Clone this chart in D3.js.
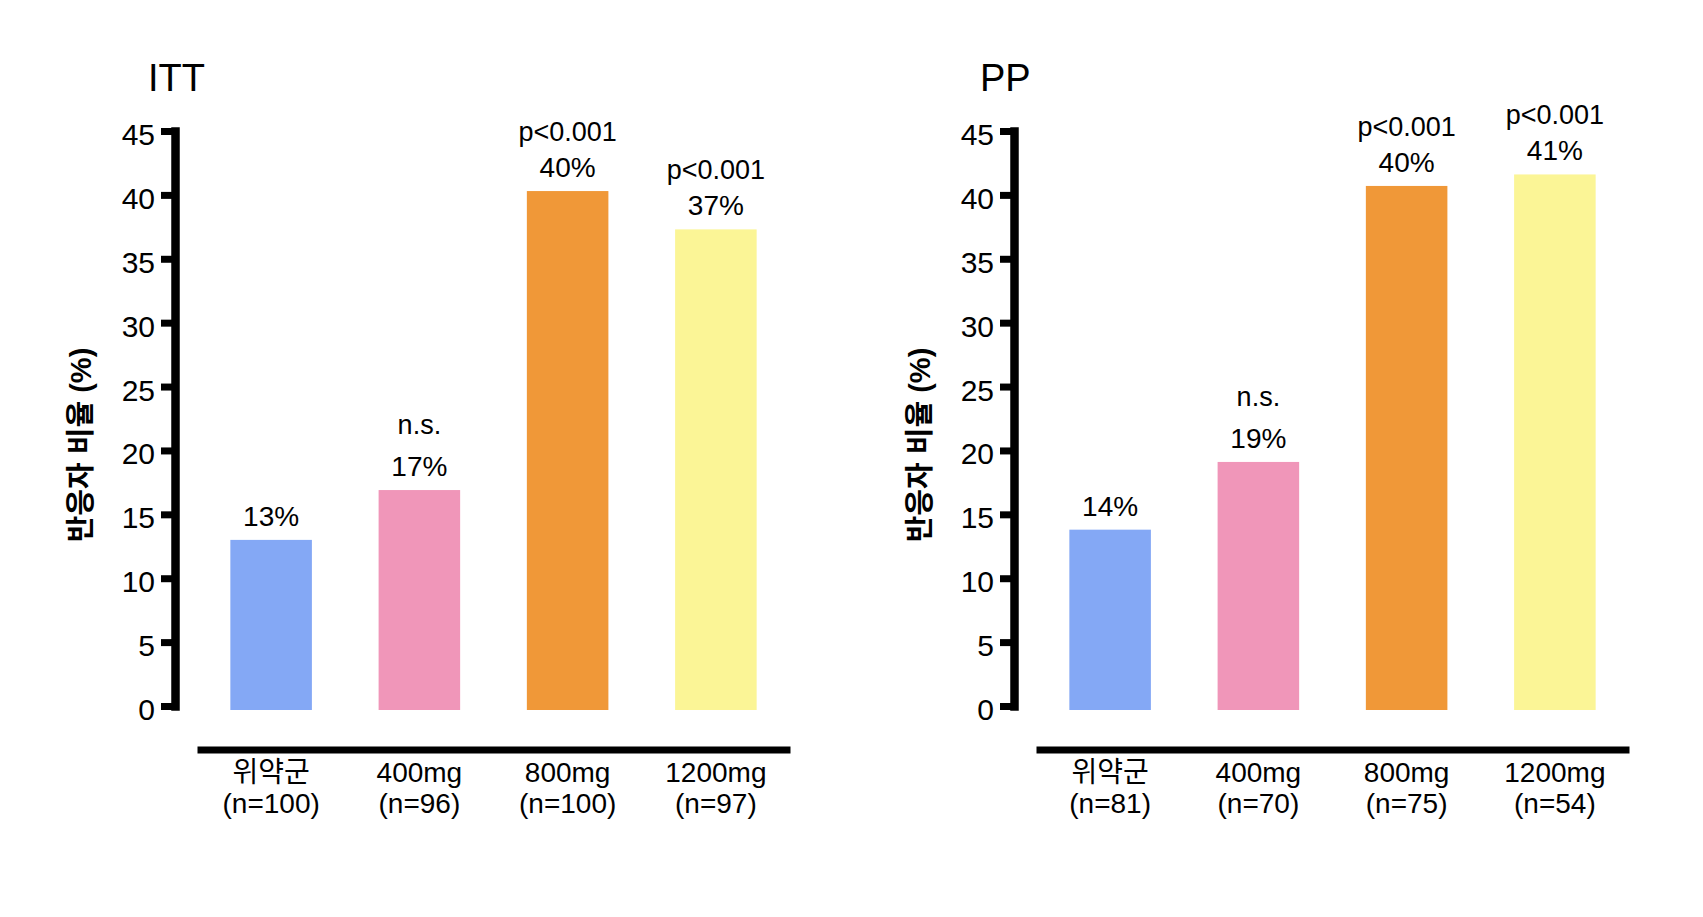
<!DOCTYPE html>
<html>
<head>
<meta charset="utf-8">
<script src="https://cdn.jsdelivr.net/npm/d3@7"></script>
<style>
  body { margin: 0; background: #fff; }
  text { font-family: "Liberation Sans", "Noto Sans CJK KR", sans-serif; fill: #000; }
</style>
</head>
<body>
<div id="chart"></div>
<script>
// data
const categories = ['위약군', '400mg', '800mg', '1200mg']
const ittN = ['(n=100)', '(n=96)', '(n=100)', '(n=97)']
const ppN = ['(n=81)', '(n=70)', '(n=75)', '(n=54)']
const ittValues = [13.0, 16.9, 40.3, 37.3]
const ppValues = [13.8, 19.1, 40.7, 41.6]
const ittLabels = ['13%', '17%', '40%', '37%']
const ppLabels = ['14%', '19%', '40%', '41%']
const ittSig = ['', 'n.s.', 'p<0.001', 'p<0.001']
const ppSig = ['', 'n.s.', 'p<0.001', 'p<0.001']
const yTicks = [0, 5, 10, 15, 20, 25, 30, 35, 40, 45]
const colors = ['#84a8f5', '#f096b9', '#f09838', '#fbf596']

const width = 1703, height = 917

let svg = d3.select('#chart')
    .append('svg')
    .attr('width', width)
    .attr('height', height)

// y scale is shared by both panels
let y = d3.scaleLinear().domain([0, 45]).range([706, 131])

function drawPanel(axisX, titleX, title, values, pctLabels, sig, nLabels) {
    let g = svg.append('g').attr('transform', `translate(${axisX},0)`)

    let x = d3.scaleBand()
        .domain(categories)
        .range([22, 615])
        .paddingInner(0.45)
        .paddingOuter(0.225)

    // title
    g.append('text')
        .attr('x', titleX)
        .attr('y', 91)
        .attr('font-size', 38)
        .text(title)

    // bars (slightly overhang the zero line like the original)
    g.selectAll('rect.bar')
        .data(values)
        .join('rect')
        .attr('class', 'bar')
        .attr('x', (d, i) => x(categories[i]))
        .attr('y', d => y(d))
        .attr('width', x.bandwidth())
        .attr('height', d => y(0) - y(d) + 4)
        .attr('fill', (d, i) => colors[i])

    // value labels
    g.selectAll('text.pct')
        .data(values)
        .join('text')
        .attr('class', 'pct')
        .attr('x', (d, i) => x(categories[i]) + x.bandwidth() / 2)
        .attr('y', d => y(d) - 14)
        .attr('text-anchor', 'middle')
        .attr('font-size', 28)
        .text((d, i) => pctLabels[i])

    g.selectAll('text.sig')
        .data(values)
        .join('text')
        .attr('class', 'sig')
        .attr('x', (d, i) => x(categories[i]) + x.bandwidth() / 2)
        .attr('y', (d, i) => y(d) - 14 - (sig[i] === 'n.s.' ? 42 : 36))
        .attr('text-anchor', 'middle')
        .attr('font-size', 27)
        .text((d, i) => sig[i])

    // y axis
    let yAxis = g.append('g')
        .call(d3.axisLeft(y).tickValues(yTicks).tickSizeInner(14).tickSizeOuter(0).tickPadding(6))
    yAxis.select('.domain')
        .attr('stroke', '#000')
        .attr('stroke-width', 8.5)
        .attr('stroke-linecap', 'square')
    yAxis.selectAll('.tick line')
        .attr('stroke', '#000')
        .attr('stroke-width', 7)
    yAxis.selectAll('.tick text')
        .attr('font-size', 30)
        .attr('font-family', '"Liberation Sans", sans-serif')
        .attr('fill', '#000')
        .attr('dy', '0.45em')

    // y axis title
    g.append('text')
        .attr('transform', `translate(${-94},445) rotate(-90)`)
        .attr('text-anchor', 'middle')
        .attr('dominant-baseline', 'central')
        .attr('font-size', 29)
        .attr('font-weight', 'bold')
        .text('반응자 비율 (%)')

    // x axis: a thick baseline below the bars, no ticks
    let xAxis = g.append('g')
        .attr('transform', 'translate(0,749.5)')
        .call(d3.axisBottom(x).tickSize(0).tickPadding(0))
    xAxis.select('.domain')
        .attr('stroke', '#000')
        .attr('stroke-width', 7)
    xAxis.selectAll('.tick text').remove()

    let labels = xAxis.selectAll('.tick')
        .append('text')
        .attr('text-anchor', 'middle')
        .attr('font-size', 28)
    labels.append('tspan')
        .attr('x', 0)
        .attr('y', 32)
        .text(d => d)
    labels.append('tspan')
        .attr('x', 0)
        .attr('y', 63)
        .text((d, i) => nLabels[i])
}

drawPanel(175, -27, 'ITT', ittValues, ittLabels, ittSig, ittN)
drawPanel(1014, -34, 'PP', ppValues, ppLabels, ppSig, ppN)
</script>
</body>
</html>
